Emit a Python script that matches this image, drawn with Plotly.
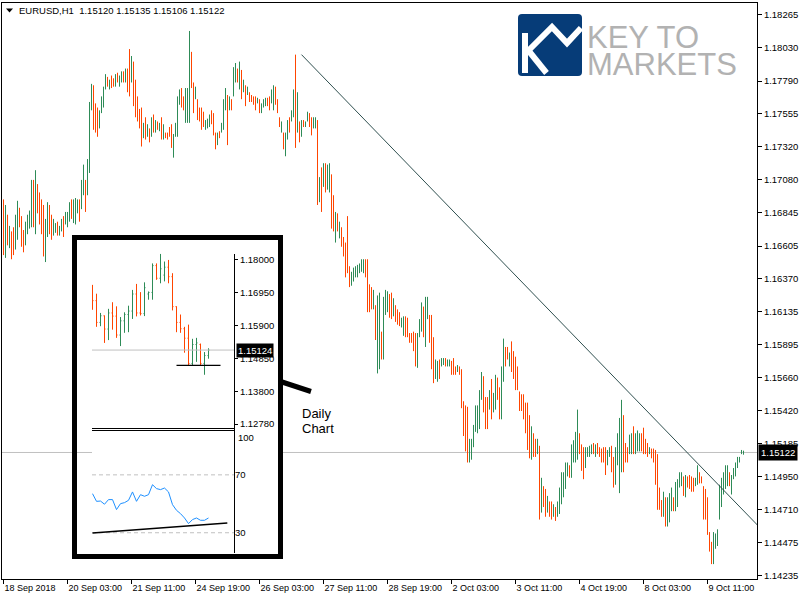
import plotly.graph_objects as go

# ---------------- main chart data (EURUSD, H1) ----------------
first_open = 1.1670
bar_high = [
    1.1694, 1.1690, 1.1683, 1.1675, 1.1671, 1.1674, 1.1683, 1.1693, 1.1688, 1.1682,
    1.1672, 1.1678, 1.1683, 1.1686, 1.1708, 1.1708, 1.1715, 1.1705, 1.1699, 1.1694,
    1.1690, 1.1680, 1.1692, 1.1690, 1.1683, 1.1680, 1.1677, 1.1678, 1.1675, 1.1680,
    1.1682, 1.1685, 1.1685, 1.1692, 1.1694, 1.1694, 1.1695, 1.1694, 1.1694, 1.1708,
    1.1719, 1.1708, 1.1723, 1.1764, 1.1777, 1.1776, 1.1763, 1.1760, 1.1758, 1.1768,
    1.1775, 1.1784, 1.1782, 1.1780, 1.1783, 1.1781, 1.1784, 1.1785, 1.1783, 1.1786,
    1.1786, 1.1788, 1.1788, 1.1802, 1.1797, 1.1793, 1.1780, 1.1768, 1.1759, 1.1760,
    1.1749, 1.1753, 1.1748, 1.1745, 1.1753, 1.1755, 1.1751, 1.1750, 1.1749, 1.1753,
    1.1748, 1.1742, 1.1742, 1.1746, 1.1748, 1.1741, 1.1749, 1.1768, 1.1773, 1.1774,
    1.1768, 1.1774, 1.1774, 1.1815, 1.1800, 1.1778, 1.1775, 1.1766, 1.1760, 1.1760,
    1.1757, 1.1751, 1.1752, 1.1755, 1.1758, 1.1756, 1.1742, 1.1742, 1.1743, 1.1749,
    1.1766, 1.1774, 1.1769, 1.1768, 1.1766, 1.1789, 1.1792, 1.1788, 1.1793, 1.1787,
    1.1780, 1.1776, 1.1775, 1.1771, 1.1769, 1.1768, 1.1768, 1.1767, 1.1766, 1.1763,
    1.1766, 1.1767, 1.1767, 1.1768, 1.1773, 1.1776, 1.1775, 1.1766, 1.1753, 1.1750,
    1.1742, 1.1742, 1.1751, 1.1753, 1.1758, 1.1773, 1.1798, 1.1771, 1.1750, 1.1751,
    1.1751, 1.1750, 1.1757, 1.1756, 1.1753, 1.1753, 1.1753, 1.1751, 1.1710, 1.1717,
    1.1720, 1.1720, 1.1719, 1.1720, 1.1712, 1.1697, 1.1685, 1.1684, 1.1678, 1.1674,
    1.1667, 1.1663, 1.1682, 1.1646, 1.1642, 1.1645, 1.1646, 1.1647, 1.1648, 1.1651,
    1.1651, 1.1651, 1.1651, 1.1633, 1.1631, 1.1629, 1.1618, 1.1625, 1.1627, 1.1599,
    1.1624, 1.1629, 1.1628, 1.1626, 1.1627, 1.1623, 1.1618, 1.1615, 1.1613, 1.1609,
    1.1610, 1.1610, 1.1609, 1.1598, 1.1598, 1.1599, 1.1598, 1.1598, 1.1608, 1.1620,
    1.1617, 1.1624, 1.1624, 1.1611, 1.1611, 1.1595, 1.1579, 1.1578, 1.1579, 1.1580,
    1.1580, 1.1580, 1.1579, 1.1579, 1.1578, 1.1580, 1.1574, 1.1575, 1.1574, 1.1572,
    1.1549, 1.1546, 1.1545, 1.1522, 1.1522, 1.1532, 1.1546, 1.1546, 1.1557, 1.1570,
    1.1567, 1.1552, 1.1552, 1.1557, 1.1565, 1.1555, 1.1568, 1.1566, 1.1559, 1.1574,
    1.1594, 1.1588, 1.1588, 1.1584, 1.1592, 1.1585, 1.1581, 1.1574, 1.1556, 1.1554,
    1.1554, 1.1548, 1.1548, 1.1539, 1.1531, 1.1526, 1.1522, 1.1522, 1.1517, 1.1494,
    1.1488, 1.1486, 1.1481, 1.1477, 1.1477, 1.1475, 1.1473, 1.1477, 1.1487, 1.1498,
    1.1498, 1.1505, 1.1505, 1.1503, 1.1518, 1.1521, 1.1527, 1.1543, 1.1526, 1.1518,
    1.1516, 1.1516, 1.1516, 1.1517, 1.1518, 1.1519, 1.1518, 1.1519, 1.1516, 1.1515,
    1.1516, 1.1516, 1.1514, 1.1516, 1.1517, 1.1509, 1.1516, 1.1526, 1.1537, 1.1550,
    1.1539, 1.1519, 1.1516, 1.1525, 1.1526, 1.1531, 1.1526, 1.1528, 1.1526, 1.1526,
    1.1530, 1.1522, 1.1519, 1.1516, 1.1515, 1.1515, 1.1514, 1.1511, 1.1487, 1.1478,
    1.1484, 1.1480, 1.1480, 1.1483, 1.1487, 1.1480, 1.1491, 1.1493, 1.1498, 1.1498,
    1.1495, 1.1496, 1.1495, 1.1496, 1.1495, 1.1494, 1.1494, 1.1503, 1.1498, 1.1495,
    1.1488, 1.1486, 1.1480, 1.1455, 1.1448, 1.1455, 1.1454, 1.1457, 1.1489, 1.1494,
    1.1498, 1.1503, 1.1503, 1.1498, 1.1496, 1.1501, 1.1505, 1.1509, 1.1509, 1.1514,
    1.15135,
]
bar_low = [
    1.1654, 1.1652, 1.1661, 1.1659, 1.1651, 1.1654, 1.1658, 1.1665, 1.1674, 1.1660,
    1.1656, 1.1661, 1.1669, 1.1673, 1.1674, 1.1674, 1.1669, 1.1684, 1.1676, 1.1669,
    1.1653, 1.1649, 1.1667, 1.1669, 1.1665, 1.1668, 1.1670, 1.1668, 1.1668, 1.1671,
    1.1667, 1.1676, 1.1674, 1.1678, 1.1680, 1.1677, 1.1676, 1.1684, 1.1678, 1.1687,
    1.1697, 1.1685, 1.1697, 1.1713, 1.1758, 1.1744, 1.1742, 1.1739, 1.1745, 1.1756,
    1.1760, 1.1773, 1.1775, 1.1773, 1.1774, 1.1775, 1.1775, 1.1778, 1.1775, 1.1778,
    1.1778, 1.1778, 1.1771, 1.1768, 1.1778, 1.1761, 1.1753, 1.1750, 1.1745, 1.1732,
    1.1738, 1.1737, 1.1739, 1.1735, 1.1739, 1.1742, 1.1742, 1.1744, 1.1743, 1.1737,
    1.1737, 1.1738, 1.1737, 1.1739, 1.1731, 1.1724, 1.1739, 1.1739, 1.1762, 1.1760,
    1.1758, 1.1749, 1.1749, 1.1749, 1.1774, 1.1756, 1.1766, 1.1751, 1.1750, 1.1744,
    1.1746, 1.1744, 1.1745, 1.1746, 1.1748, 1.1740, 1.1730, 1.1733, 1.1738, 1.1742,
    1.1744, 1.1758, 1.1733, 1.1758, 1.1758, 1.1768, 1.1778, 1.1778, 1.1773, 1.1766,
    1.1771, 1.1761, 1.1769, 1.1764, 1.1764, 1.1762, 1.1758, 1.1763, 1.1756, 1.1756,
    1.1760, 1.1761, 1.1761, 1.1758, 1.1763, 1.1758, 1.1762, 1.1756, 1.1746, 1.1742,
    1.1730, 1.1725, 1.1737, 1.1742, 1.1750, 1.1753, 1.1731, 1.1742, 1.1735, 1.1739,
    1.1746, 1.1746, 1.1750, 1.1746, 1.1740, 1.1745, 1.1745, 1.1690, 1.1692, 1.1685,
    1.1703, 1.1699, 1.1701, 1.1699, 1.1673, 1.1671, 1.1663, 1.1671, 1.1666, 1.1660,
    1.1653, 1.1638, 1.1641, 1.1631, 1.1632, 1.1635, 1.1638, 1.1638, 1.1641, 1.1642,
    1.1641, 1.1638, 1.1613, 1.1613, 1.1615, 1.1615, 1.1593, 1.1569, 1.1572, 1.1579,
    1.1579, 1.1611, 1.1613, 1.1609, 1.1608, 1.1610, 1.1606, 1.1604, 1.1603, 1.1602,
    1.1596, 1.1595, 1.1595, 1.1591, 1.1591, 1.1585, 1.1574, 1.1573, 1.1595, 1.1599,
    1.1595, 1.1588, 1.1608, 1.1591, 1.1572, 1.1562, 1.1565, 1.1563, 1.1565, 1.1574,
    1.1575, 1.1574, 1.1574, 1.1574, 1.1568, 1.1568, 1.1568, 1.1570, 1.1568, 1.1544,
    1.1524, 1.1513, 1.1505, 1.1505, 1.1507, 1.1516, 1.1527, 1.1526, 1.1529, 1.1550,
    1.1541, 1.1529, 1.1529, 1.1543, 1.1536, 1.1541, 1.1543, 1.1550, 1.1536, 1.1536,
    1.1563, 1.1574, 1.1579, 1.1574, 1.1570, 1.1565, 1.1557, 1.1557, 1.1542, 1.1542,
    1.1536, 1.1526, 1.1514, 1.1508, 1.1507, 1.1509, 1.1509, 1.1511, 1.1464, 1.1469,
    1.1473, 1.1466, 1.1469, 1.1466, 1.1464, 1.1466, 1.1463, 1.1466, 1.1468, 1.1475,
    1.1480, 1.1486, 1.1495, 1.1494, 1.1494, 1.1505, 1.1505, 1.1507, 1.1511, 1.1499,
    1.1493, 1.1501, 1.1509, 1.1509, 1.1511, 1.1511, 1.1509, 1.1511, 1.1509, 1.1505,
    1.1505, 1.1496, 1.1503, 1.1509, 1.1498, 1.1487, 1.1489, 1.1503, 1.1483, 1.1498,
    1.1498, 1.1505, 1.1505, 1.1511, 1.1511, 1.1511, 1.1511, 1.1513, 1.1513, 1.1513,
    1.1511, 1.1511, 1.1509, 1.1511, 1.1508, 1.1505, 1.1489, 1.1471, 1.1471, 1.1466,
    1.1466, 1.1459, 1.1459, 1.1462, 1.1470, 1.1470, 1.1470, 1.1473, 1.1487, 1.1488,
    1.1481, 1.1480, 1.1487, 1.1486, 1.1484, 1.1484, 1.1488, 1.1489, 1.1490, 1.1490,
    1.1464, 1.1464, 1.1453, 1.1441, 1.1432, 1.1432, 1.1443, 1.1445, 1.1464, 1.1473,
    1.1482, 1.1486, 1.1488, 1.1488, 1.1482, 1.1493, 1.1495, 1.1501, 1.1505, 1.1511,
    1.15106,
]
bar_close = [
    1.1662, 1.1680, 1.1666, 1.1671, 1.1669, 1.1660, 1.1676, 1.1686, 1.1677, 1.1665,
    1.1660, 1.1673, 1.1679, 1.1683, 1.1702, 1.1695, 1.1710, 1.1690, 1.1680, 1.1675,
    1.1660, 1.1672, 1.1685, 1.1674, 1.1668, 1.1670, 1.1675, 1.1671, 1.1673, 1.1678,
    1.1670, 1.1683, 1.1684, 1.1689, 1.1684, 1.1690, 1.1692, 1.1693, 1.1688, 1.1705,
    1.1715, 1.1703, 1.1718, 1.1758, 1.1773, 1.1750, 1.1746, 1.1743, 1.1748, 1.1765,
    1.1772, 1.1782, 1.1777, 1.1779, 1.1776, 1.1776, 1.1782, 1.1780, 1.1782, 1.1784,
    1.1780, 1.1786, 1.1775, 1.1772, 1.1792, 1.1768, 1.1758, 1.1753, 1.1748, 1.1738,
    1.1746, 1.1740, 1.1746, 1.1742, 1.1750, 1.1745, 1.1749, 1.1746, 1.1748, 1.1741,
    1.1745, 1.1741, 1.1741, 1.1740, 1.1735, 1.1738, 1.1747, 1.1762, 1.1770, 1.1764,
    1.1760, 1.1770, 1.1771, 1.1790, 1.1779, 1.1760, 1.1768, 1.1755, 1.1752, 1.1748,
    1.1747, 1.1749, 1.1751, 1.1753, 1.1750, 1.1744, 1.1734, 1.1740, 1.1739, 1.1747,
    1.1760, 1.1771, 1.1745, 1.1765, 1.1764, 1.1785, 1.1790, 1.1781, 1.1788, 1.1770,
    1.1772, 1.1765, 1.1771, 1.1766, 1.1765, 1.1764, 1.1761, 1.1765, 1.1758, 1.1762,
    1.1765, 1.1766, 1.1764, 1.1761, 1.1770, 1.1773, 1.1765, 1.1758, 1.1748, 1.1749,
    1.1739, 1.1740, 1.1748, 1.1745, 1.1756, 1.1760, 1.1745, 1.1748, 1.1747, 1.1749,
    1.1747, 1.1748, 1.1755, 1.1749, 1.1744, 1.1751, 1.1752, 1.1698, 1.1706, 1.1692,
    1.1715, 1.1705, 1.1714, 1.1716, 1.1682, 1.1677, 1.1680, 1.1674, 1.1675, 1.1664,
    1.1657, 1.1645, 1.1644, 1.1634, 1.1640, 1.1643, 1.1645, 1.1646, 1.1647, 1.1649,
    1.1650, 1.1648, 1.1620, 1.1617, 1.1616, 1.1618, 1.1600, 1.1612, 1.1615, 1.1585,
    1.1612, 1.1625, 1.1626, 1.1622, 1.1612, 1.1620, 1.1609, 1.1606, 1.1605, 1.1608,
    1.1608, 1.1598, 1.1597, 1.1593, 1.1592, 1.1588, 1.1580, 1.1590, 1.1597, 1.1615,
    1.1612, 1.1618, 1.1620, 1.1596, 1.1580, 1.1568, 1.1575, 1.1576, 1.1570, 1.1578,
    1.1579, 1.1576, 1.1578, 1.1579, 1.1576, 1.1571, 1.1570, 1.1571, 1.1569, 1.1550,
    1.1530, 1.1520, 1.1512, 1.1518, 1.1520, 1.1528, 1.1540, 1.1542, 1.1550, 1.1565,
    1.1548, 1.1535, 1.1534, 1.1546, 1.1540, 1.1552, 1.1560, 1.1554, 1.1542, 1.1565,
    1.1588, 1.1585, 1.1581, 1.1583, 1.1575, 1.1569, 1.1563, 1.1560, 1.1545, 1.1544,
    1.1540, 1.1530, 1.1520, 1.1513, 1.1524, 1.1522, 1.1512, 1.1514, 1.1472, 1.1487,
    1.1484, 1.1471, 1.1472, 1.1468, 1.1467, 1.1468, 1.1465, 1.1474, 1.1482, 1.1492,
    1.1494, 1.1500, 1.1503, 1.1501, 1.1512, 1.1517, 1.1521, 1.1535, 1.1515, 1.1505,
    1.1500, 1.1504, 1.1514, 1.1515, 1.1517, 1.1513, 1.1516, 1.1514, 1.1512, 1.1508,
    1.1507, 1.1500, 1.1511, 1.1514, 1.1503, 1.1492, 1.1509, 1.1519, 1.1525, 1.1535,
    1.1510, 1.1508, 1.1507, 1.1520, 1.1522, 1.1516, 1.1521, 1.1523, 1.1524, 1.1517,
    1.1514, 1.1513, 1.1511, 1.1512, 1.1510, 1.1507, 1.1495, 1.1480, 1.1475, 1.1470,
    1.1479, 1.1465, 1.1475, 1.1477, 1.1482, 1.1478, 1.1486, 1.1488, 1.1495, 1.1496,
    1.1485, 1.1492, 1.1489, 1.1488, 1.1487, 1.1486, 1.1489, 1.1499, 1.1492, 1.1491,
    1.1470, 1.1468, 1.1460, 1.1444, 1.1436, 1.1450, 1.1452, 1.1454, 1.1484, 1.1490,
    1.1495, 1.1500, 1.1501, 1.1491, 1.1493, 1.1499, 1.1503, 1.1507, 1.1508, 1.1512,
    1.15122,
]
assert len(bar_high) == len(bar_low) == len(bar_close) == 371
bar_open = [first_open] + bar_close[:-1]
bar_index = list(range(len(bar_close)))

x_tick_index = [0, 32, 64, 96, 128, 160, 192, 224, 256, 288, 320, 352]
x_tick_labels = ["18 Sep 2018", "20 Sep 03:00", "21 Sep 11:00", "24 Sep 19:00",
                 "26 Sep 03:00", "27 Sep 11:00", "28 Sep 19:00", "2 Oct 03:00",
                 "3 Oct 11:00", "4 Oct 19:00", "8 Oct 03:00", "9 Oct 11:00"]
price_ticks = [1.18265, 1.18030, 1.17790, 1.17555, 1.17320, 1.17080, 1.16845,
               1.16605, 1.16370, 1.16135, 1.15895, 1.15660, 1.15420, 1.15185,
               1.14950, 1.14710, 1.14475, 1.14235]

trend_x = [149, 377]
trend_y = [1.1798, 1.1460]

# ---------------- inset (daily chart) data ----------------
day_open = [1.1700, 1.1669, 1.1600, 1.1621, 1.1579, 1.1630, 1.1620, 1.1560, 1.1605, 1.1625,
            1.1636, 1.1690, 1.1630, 1.1628, 1.1690, 1.1695, 1.1780, 1.1740, 1.1750, 1.1775,
            1.1745, 1.1650, 1.1600, 1.1580, 1.1550, 1.1470, 1.1530, 1.1530, 1.1470, 1.1495]
day_high = [1.1719, 1.1691, 1.1630, 1.1622, 1.1643, 1.1664, 1.1651, 1.1617, 1.1632, 1.1653,
            1.1703, 1.1722, 1.1696, 1.1727, 1.1698, 1.1787, 1.1787, 1.1817, 1.1793, 1.1798,
            1.1756, 1.1651, 1.1625, 1.1586, 1.1593, 1.1548, 1.1551, 1.1533, 1.1506, 1.1518]
day_low = [1.1640, 1.1586, 1.1588, 1.1535, 1.1544, 1.1577, 1.1551, 1.1525, 1.1567, 1.1569,
           1.1611, 1.1619, 1.1622, 1.1620, 1.1672, 1.1672, 1.1735, 1.1724, 1.1730, 1.1724,
           1.1638, 1.1569, 1.1567, 1.1504, 1.1464, 1.1464, 1.1475, 1.1464, 1.1434, 1.1485]
day_close = [1.1669, 1.1600, 1.1621, 1.1579, 1.1630, 1.1620, 1.1560, 1.1605, 1.1625, 1.1636,
             1.1690, 1.1630, 1.1628, 1.1710, 1.1695, 1.1780, 1.1740, 1.1770, 1.1775, 1.1745,
             1.1650, 1.1600, 1.1580, 1.1550, 1.1470, 1.1530, 1.1535, 1.1470, 1.1495, 1.15124]
day_index = list(range(len(day_close)))
day_rsi = [57.0, 51.7, 51.9, 49.7, 52.9, 52.9, 46.0, 50.1, 50.8, 52.4,
           58.2, 51.7, 56.3, 55.2, 56.3, 63.2, 60.5, 59.8, 60.9, 58.2,
           49.4, 45.5, 43.2, 40.2, 36.3, 39.1, 40.2, 38.6, 38.6, 40.2]
inset_price_ticks = [1.18000, 1.16950, 1.15900, 1.14850, 1.13800, 1.12780]
support_x = [21, 32]
support_level = 1.1464
rsi_levels = [70, 30]
rsi_trend_x = [0, 33.7]
rsi_trend_y = [29.8, 36.7]

# ---------------- styling / geometry ----------------
UP = "#2E8B57"
DOWN = "#FF4500"
FONT = "Liberation Sans, Arial, sans-serif"
W, H = 800, 600
ML, MR, MT, MB = 2, 43, 3, 21
PW, PH = W - ML - MR, H - MT - MB


def PX(x):
    return (x - ML) / PW


def PY(y):
    return 1 - (y - MT) / PH


main_xrange = [-0.75, -0.75 + PW / 2]
main_yrange = [1.14213, 1.18351]
inset_xrange = [-0.125, 35.375]

fig = go.Figure()

# main bars
fig.add_trace(go.Ohlc(
    x=bar_index, open=bar_open, high=bar_high, low=bar_low, close=bar_close,
    increasing=dict(line=dict(color=UP, width=1)),
    decreasing=dict(line=dict(color=DOWN, width=1)),
    tickwidth=0, hoverinfo="skip", xaxis="x", yaxis="y"))
fig.add_trace(go.Scatter(x=trend_x, y=trend_y, mode="lines",
                         line=dict(color="#2F4F4F", width=1), hoverinfo="skip",
                         xaxis="x", yaxis="y"))

# inset cover subplot (empty trace keeps the subplot alive)
fig.add_trace(go.Scatter(x=[], y=[], xaxis="x2", yaxis="y2", hoverinfo="skip"))

# inset price panel
fig.add_trace(go.Scatter(x=inset_xrange, y=[day_close[-1]] * 2, mode="lines",
                         line=dict(color="#C0C0C0", width=1), hoverinfo="skip",
                         xaxis="x3", yaxis="y3"))
fig.add_trace(go.Ohlc(
    x=day_index, open=day_open, high=day_high, low=day_low, close=day_close,
    increasing=dict(line=dict(color=UP, width=1)),
    decreasing=dict(line=dict(color=DOWN, width=1)),
    tickwidth=0.25, hoverinfo="skip", xaxis="x3", yaxis="y3"))
fig.add_trace(go.Scatter(x=support_x, y=[support_level] * 2, mode="lines",
                         line=dict(color="black", width=1.2), hoverinfo="skip",
                         xaxis="x3", yaxis="y3"))

# inset RSI panel
for lv in rsi_levels:
    fig.add_trace(go.Scatter(x=inset_xrange, y=[lv, lv], mode="lines",
                             line=dict(color="#C0C0C0", width=1, dash="4px,3px"),
                             hoverinfo="skip", xaxis="x4", yaxis="y4"))
fig.add_trace(go.Scatter(x=day_index, y=day_rsi, mode="lines",
                         line=dict(color="#1E90FF", width=1), hoverinfo="skip",
                         xaxis="x4", yaxis="y4"))
fig.add_trace(go.Scatter(x=rsi_trend_x, y=rsi_trend_y, mode="lines",
                         line=dict(color="black", width=1.5), hoverinfo="skip",
                         xaxis="x4", yaxis="y4"))

tickfont = dict(family=FONT, size=9.5, color="black")
hidden = dict(visible=False, showgrid=False, zeroline=False, fixedrange=True,
              automargin=False)

fig.update_layout(
    template="none",
    width=W, height=H, margin=dict(l=ML, r=MR, t=MT, b=MB, pad=0, autoexpand=False),
    paper_bgcolor="white", plot_bgcolor="white", showlegend=False,
    hovermode=False,
    xaxis=dict(domain=[0, 1], range=main_xrange, showgrid=False, zeroline=False,
               showline=True, mirror=True, linecolor="black", linewidth=1,
               ticks="outside", ticklen=4, tickcolor="black", tickwidth=1,
               tickvals=x_tick_index, ticktext=x_tick_labels,
               ticklabelposition="outside right", automargin=False,
               tickfont=dict(family=FONT, size=9, color="black"),
               rangeslider=dict(visible=False), fixedrange=True),
    yaxis=dict(domain=[0, 1], range=main_yrange, side="right", showgrid=False,
               zeroline=False, showline=True, mirror=True, linecolor="black",
               linewidth=1, ticks="outside", ticklen=4, tickcolor="black", tickwidth=1,
               tickvals=price_ticks, tickformat=".5f", tickfont=tickfont,
               automargin=False, fixedrange=True),
    xaxis2=dict(domain=[PX(92), PX(283)], range=[0, 1], anchor="y2", **hidden),
    yaxis2=dict(domain=[PY(559), PY(235)], range=[0, 1], anchor="x2", **hidden),
    xaxis3=dict(domain=[PX(92), PX(234)], range=inset_xrange, anchor="y3",
                rangeslider=dict(visible=False), **hidden),
    yaxis3=dict(domain=[PY(427), PY(240)], range=[1.12685, 1.18612], anchor="x3",
                side="right", showgrid=False, zeroline=False, showline=False,
                ticks="outside", ticklen=3, tickcolor="black", tickwidth=1,
                tickvals=inset_price_ticks, tickformat=".5f", tickfont=tickfont,
                automargin=False, fixedrange=True),
    xaxis4=dict(domain=[PX(92), PX(234)], range=inset_xrange, anchor="y4", **hidden),
    yaxis4=dict(domain=[PY(553), PY(431)], range=[16.0, 100.3], anchor="x4",
                side="right", showgrid=False, zeroline=False, showline=False,
                ticks="", tickvals=rsi_levels, tickfont=tickfont,
                automargin=False, fixedrange=True),
)


def rrect(x0, y0, x1, y1, r):
    return (f"M {PX(x0 + r)},{PY(y0)} L {PX(x1 - r)},{PY(y0)} Q {PX(x1)},{PY(y0)} {PX(x1)},{PY(y0 + r)} "
            f"L {PX(x1)},{PY(y1 - r)} Q {PX(x1)},{PY(y1)} {PX(x1 - r)},{PY(y1)} "
            f"L {PX(x0 + r)},{PY(y1)} Q {PX(x0)},{PY(y1)} {PX(x0)},{PY(y1 - r)} "
            f"L {PX(x0)},{PY(y0 + r)} Q {PX(x0)},{PY(y0)} {PX(x0 + r)},{PY(y0)} Z")


def poly(points):
    return "M " + " L ".join(f"{PX(a)},{PY(b)}" for a, b in points)


shapes = [
    # current bid line on main chart
    dict(type="line", xref="paper", yref="y", x0=0, x1=1,
         y0=bar_close[-1], y1=bar_close[-1], line=dict(color="#C0C0C0", width=1),
         layer="below"),
    # white cover for the inset picture
    dict(type="rect", xref="x2", yref="y2", x0=0, x1=1, y0=0, y1=1,
         fillcolor="white", line=dict(width=0), layer="below"),
    # inset frame
    dict(type="rect", xref="paper", yref="paper", x0=PX(74.5), x1=PX(280.5),
         y0=PY(556.5), y1=PY(237.5), line=dict(color="black", width=5),
         fillcolor="rgba(0,0,0,0)", layer="above"),
    # inset axis line
    dict(type="line", xref="paper", yref="paper", x0=PX(234.5), x1=PX(234.5),
         y0=PY(254), y1=PY(553), line=dict(color="black", width=1), layer="above"),
    # inset panel separator
    dict(type="line", xref="paper", yref="paper", x0=PX(92), x1=PX(234),
         y0=PY(428.5), y1=PY(428.5), line=dict(color="black", width=1), layer="above"),
    dict(type="line", xref="paper", yref="paper", x0=PX(92), x1=PX(234),
         y0=PY(430.5), y1=PY(430.5), line=dict(color="black", width=1), layer="above"),
    # pointer
    dict(type="line", xref="paper", yref="paper", x0=PX(279), x1=PX(311),
         y0=PY(381), y1=PY(391.5), line=dict(color="black", width=5), layer="above"),
    # header triangle
    dict(type="path", xref="paper", yref="paper",
         path=poly([(6, 8.5), (13, 8.5), (9.5, 12.5)]) + " Z",
         fillcolor="black", line=dict(width=0), layer="above"),
    # logo
    dict(type="path", xref="paper", yref="paper", path=rrect(518, 14, 582, 76, 4),
         fillcolor="#063C78", line=dict(width=0), layer="above"),
    dict(type="line", xref="paper", yref="paper", x0=PX(525), x1=PX(525),
         y0=PY(33), y1=PY(73), line=dict(color="white", width=6), layer="above"),
    dict(type="line", xref="paper", yref="paper", x0=PX(528), x1=PX(546.5),
         y0=PY(50), y1=PY(73), line=dict(color="white", width=6), layer="above"),
    dict(type="path", xref="paper", yref="paper",
         path=poly([(527, 52), (552, 27), (567, 43), (581, 28)]),
         line=dict(color="white", width=6), fillcolor="rgba(0,0,0,0)", layer="above"),
]
fig.update_layout(shapes=shapes)

NB = "\u00a0"
annotations = [
    dict(xref="paper", yref="paper", x=PX(18), y=PY(11), xanchor="left", yanchor="middle",
         text=f"EURUSD,H1{NB}{NB}{bar_open[-1]:.5f} {bar_high[-1]:.5f} {bar_low[-1]:.5f} {bar_close[-1]:.5f}",
         showarrow=False, font=dict(family=FONT, size=9.5, color="black"), borderpad=0),
    dict(xref="paper", yref="y", x=PX(758), y=bar_close[-1], xanchor="left", yanchor="middle",
         text=f"{bar_close[-1]:.5f}", showarrow=False, bgcolor="black", borderpad=2,
         font=dict(family=FONT, size=9.5, color="white")),
    dict(xref="paper", yref="y3", x=PX(236), y=day_close[-1], xanchor="left", yanchor="middle",
         text=f"{day_close[-1]:.5f}", showarrow=False, bgcolor="black", borderpad=1,
         font=dict(family=FONT, size=9.5, color="white")),
    dict(xref="paper", yref="y4", x=PX(237), y=100.3, xanchor="left", yanchor="top",
         text="100", showarrow=False, borderpad=0,
         font=dict(family=FONT, size=9.5, color="black")),
    dict(xref="paper", yref="paper", x=PX(301), y=PY(413), xanchor="left", yanchor="middle",
         text="Daily", showarrow=False, borderpad=0,
         font=dict(family=FONT, size=13, color="black")),
    dict(xref="paper", yref="paper", x=PX(301), y=PY(428), xanchor="left", yanchor="middle",
         text="Chart", showarrow=False, borderpad=0,
         font=dict(family=FONT, size=13, color="black")),
    dict(xref="paper", yref="paper", x=PX(586), y=PY(37.5), xanchor="left", yanchor="middle",
         text="KEY TO", showarrow=False, borderpad=0,
         font=dict(family=FONT, size=31, color="#B2B2B2")),
    dict(xref="paper", yref="paper", x=PX(586), y=PY(64.5), xanchor="left", yanchor="middle",
         text="MARKETS", showarrow=False, borderpad=0,
         font=dict(family=FONT, size=31, color="#B2B2B2")),
]
fig.update_layout(annotations=annotations)

fig.write_html("out.html", config=dict(displayModeBar=False, staticPlot=True),
               post_script="document.body.style.margin='0';document.body.style.padding='0';")
